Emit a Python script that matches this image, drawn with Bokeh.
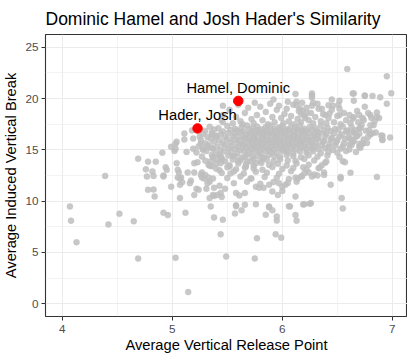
from bokeh.plotting import figure
from bokeh.models import Range1d, FixedTicker, ColumnDataSource
from bokeh.core.properties import value
from bokeh.embed import file_html
from bokeh.resources import INLINE

# --- data: (average vertical release point, average induced vertical break) ---
outlier_pts = [
    (4.07, 9.48), (4.08, 8.09), (4.13, 5.99), (4.39, 12.46), (4.42, 7.73), (4.52, 8.77),
    (4.65, 8.03), (4.69, 14.14), (4.69, 4.40), (4.76, 13.10), (4.83, 12.46), (4.83, 11.13),
    (4.84, 10.45), (4.85, 13.85), (4.82, 12.90), (4.92, 12.49), (4.92, 8.87), (4.91, 14.72),
    (4.94, 13.30), (4.95, 13.05), (4.96, 8.64), (4.99, 15.30), (4.99, 11.40), (5.03, 4.47),
    (5.04, 13.70), (5.05, 12.30), (5.07, 10.30), (5.12, 8.87), (5.145, 1.13), (5.20, 10.60),
    (5.35, 9.48), (5.38, 8.41), (5.44, 6.76), (5.46, 8.19), (5.49, 4.60), (5.57, 8.80),
    (5.58, 9.60), (5.77, 6.38), (5.75, 4.40), (5.85, 8.67), (5.88, 9.48), (5.94, 6.76),
    (5.95, 8.10), (5.95, 8.50), (5.99, 6.44), (6.07, 9.48), (6.12, 8.64), (6.13, 8.09),
    (6.19, 9.68), (6.25, 9.74), (6.54, 10.30), (6.55, 9.29), (6.86, 12.36), (6.62, 12.78),
    (6.53, 12.36), (6.59, 22.88), (6.95, 22.17), (6.99, 20.52), (6.95, 19.50), (6.98, 16.20),
    (6.91, 16.37), (6.91, 15.95), (6.89, 20.13), (6.82, 20.26), (6.75, 20.26), (6.64, 20.50),
    (6.12, 20.45), (6.88, 18.10), (6.86, 18.64),
]

left_pts = [
    (4.78, 13.85), (4.77, 12.40), (4.78, 11.10), (4.92, 12.40), (5.03, 15.60), (5.04, 15.80),
    (5.02, 14.90), (5.03, 15.10), (5.06, 12.80), (5.08, 12.30), (5.11, 16.60), (5.11, 16.00),
    (5.13, 14.80), (5.07, 11.60), (5.18, 16.90), (5.19, 16.10), (5.19, 15.10), (5.20, 13.70),
    (5.20, 12.80), (5.17, 12.00), (5.22, 11.20), (5.24, 11.10), (5.25, 16.30), (5.26, 15.60),
    (5.28, 15.00), (5.32, 15.30), (5.27, 12.80), (5.29, 12.20), (5.33, 12.30), (5.34, 11.90),
    (5.37, 12.20), (5.31, 11.20), (5.36, 16.50), (5.40, 16.30), (5.37, 15.10), (5.46, 19.30),
    (5.46, 18.40), (5.45, 17.90), (5.46, 17.70), (5.40, 13.70), (5.45, 14.00), (5.43, 13.00),
    (5.34, 10.30), (5.38, 10.50), (5.45, 10.40), (5.43, 11.50), (5.05, 13.05), (5.09, 11.85),
    (5.07, 12.20), (5.16, 11.75), (5.14, 12.80), (5.23, 13.80), (5.26, 12.56), (5.27, 12.30),
    (5.30, 12.56), (5.32, 11.75), (5.34, 13.45), (5.36, 13.40), (5.38, 11.30), (5.37, 10.60),
    (5.41, 10.60), (5.44, 10.80), (5.48, 11.20),
]

lower_pts = [
    (5.52, 13.37), (5.53, 12.70), (5.58, 10.80), (5.61, 10.55), (5.66, 10.80), (5.67, 13.37),
    (5.71, 12.20), (5.76, 11.40), (5.79, 11.30), (5.83, 11.30), (5.88, 11.60), (5.91, 10.95),
    (5.97, 11.75), (6.00, 11.40), (5.96, 10.60), (5.58, 9.50), (5.66, 9.65), (5.76, 9.70),
    (5.63, 9.10), (5.88, 9.40), (5.91, 9.10), (5.35, 13.90), (5.37, 14.30), (5.43, 14.50),
    (5.45, 14.20), (5.55, 14.40), (5.60, 13.90), (5.66, 14.30), (5.71, 13.90), (5.76, 13.70),
    (5.83, 14.20), (6.12, 10.45), (6.20, 9.70), (6.26, 9.80), (6.06, 9.50), (6.12, 12.30),
    (6.13, 11.90), (6.14, 12.20), (6.17, 12.40), (6.03, 11.60), (6.00, 11.00), (6.19, 13.30),
    (6.24, 12.80), (6.33, 13.20), (6.39, 13.75), (6.38, 12.80), (6.32, 12.50), (6.27, 12.40),
    (6.29, 12.60), (6.38, 12.56), (6.44, 11.60), (6.53, 12.20), (6.55, 13.90), (6.57, 13.80),
    (6.70, 15.30), (6.73, 15.60), (6.67, 14.80),
]

upper_pts = [
    (6.27, 20.50), (6.27, 20.30), (6.27, 20.10), (6.28, 19.60), (6.27, 19.30), (6.45, 19.90),
    (6.52, 19.80), (6.51, 19.40), (6.52, 19.00), (6.65, 20.50), (6.65, 19.80), (6.75, 20.30),
    (6.75, 19.20), (6.86, 18.20), (6.13, 19.70), (6.13, 19.35), (6.16, 19.00), (6.17, 18.50),
    (6.18, 18.80), (6.22, 18.60), (6.21, 18.10), (6.36, 19.00), (6.39, 18.40), (6.42, 19.35),
    (6.43, 18.55), (6.52, 18.40), (6.61, 18.40), (6.64, 18.05), (6.68, 18.80), (6.70, 18.40),
    (6.73, 18.10), (6.72, 17.40), (6.80, 18.40), (6.81, 18.10), (6.83, 17.40), (6.80, 17.40),
    (6.79, 16.90), (6.85, 16.70), (6.80, 16.50), (6.90, 16.40), (6.91, 16.00), (6.77, 15.67),
    (6.70, 15.60), (6.71, 15.20), (6.62, 16.05), (6.61, 15.50), (6.59, 16.90), (6.65, 16.70),
    (6.67, 16.30), (6.70, 17.10),
    (5.52, 18.90), (5.58, 18.20), (5.62, 17.80), (5.66, 18.60), (5.69, 19.10), (5.72, 18.00),
    (5.74, 17.60), (5.77, 18.40), (5.80, 19.20), (5.82, 17.90), (5.85, 18.70), (5.87, 17.50),
    (5.89, 19.50), (5.91, 18.20), (5.93, 17.70), (5.95, 18.90), (5.97, 19.30), (5.99, 18.10),
    (6.01, 17.60), (6.02, 18.50), (6.04, 19.00), (6.06, 17.80), (6.08, 18.30), (6.10, 19.40),
    (6.11, 17.50), (6.14, 18.00), (6.15, 18.80), (6.17, 17.70), (6.20, 18.30), (6.22, 19.10),
    (6.24, 17.90), (6.26, 18.60), (6.28, 17.60), (6.30, 18.20), (6.33, 19.00), (6.35, 17.80),
    (6.37, 18.50), (6.40, 17.60), (6.42, 18.10), (6.45, 18.90), (6.47, 17.70), (6.50, 18.30),
    (6.53, 17.50), (6.56, 18.60), (6.58, 17.90), (6.62, 17.60), (6.65, 18.20), (5.60, 19.40),
    (5.75, 19.60), (5.92, 19.90), (6.05, 19.70), (6.18, 19.60), (6.32, 19.50), (6.46, 19.30),
    (5.64, 17.50), (5.55, 17.60), (6.69, 17.70), (6.74, 17.90), (6.78, 18.60), (6.84, 17.80),
]

core_pts = [
    # ~17.2
    (5.34, 17.25), (5.42, 17.10), (5.50, 17.32), (5.57, 17.05), (5.63, 17.20), (5.68, 17.38),
    (5.73, 17.12), (5.77, 17.28), (5.81, 17.02), (5.85, 17.22), (5.89, 17.35), (5.93, 17.08),
    (5.97, 17.18), (6.00, 17.30), (6.04, 17.00), (6.08, 17.26), (6.12, 17.14), (6.16, 17.36),
    (6.20, 17.06), (6.25, 17.24), (6.30, 17.10), (6.35, 17.33), (6.41, 17.16), (6.48, 17.04),
    (6.55, 17.27), (6.63, 17.20), (6.71, 17.12),
    # ~16.9
    (5.30, 16.85), (5.38, 16.98), (5.46, 16.80), (5.53, 16.95), (5.59, 16.88), (5.64, 16.78),
    (5.69, 17.00), (5.74, 16.83), (5.78, 16.93), (5.82, 16.76), (5.86, 16.97), (5.90, 16.86),
    (5.94, 16.79), (5.98, 16.99), (6.02, 16.84), (6.06, 16.92), (6.10, 16.77), (6.14, 16.96),
    (6.18, 16.87), (6.22, 16.81), (6.27, 16.94), (6.32, 16.78), (6.38, 16.90), (6.44, 16.83),
    (6.51, 16.97), (6.58, 16.80), (6.66, 16.91), (6.76, 16.86),
    # ~16.6
    (5.28, 16.55), (5.36, 16.68), (5.44, 16.52), (5.51, 16.64), (5.57, 16.58), (5.62, 16.70),
    (5.67, 16.49), (5.71, 16.62), (5.75, 16.56), (5.79, 16.72), (5.83, 16.50), (5.87, 16.66),
    (5.91, 16.59), (5.95, 16.47), (5.99, 16.69), (6.03, 16.54), (6.07, 16.63), (6.11, 16.48),
    (6.15, 16.71), (6.19, 16.57), (6.24, 16.65), (6.29, 16.51), (6.34, 16.67), (6.40, 16.55),
    (6.47, 16.60), (6.54, 16.49), (6.62, 16.68), (6.70, 16.56), (6.82, 16.62),
    # ~16.3
    (5.32, 16.25), (5.40, 16.38), (5.48, 16.22), (5.55, 16.35), (5.60, 16.28), (5.65, 16.18),
    (5.70, 16.40), (5.74, 16.24), (5.78, 16.33), (5.82, 16.19), (5.86, 16.37), (5.90, 16.26),
    (5.94, 16.21), (5.98, 16.39), (6.02, 16.27), (6.06, 16.17), (6.10, 16.34), (6.14, 16.23),
    (6.18, 16.38), (6.23, 16.20), (6.28, 16.31), (6.33, 16.25), (6.39, 16.36), (6.45, 16.18),
    (6.52, 16.30), (6.60, 16.22), (6.68, 16.35), (6.78, 16.26),
    # ~16.0
    (5.26, 15.95), (5.35, 16.08), (5.43, 15.92), (5.50, 16.04), (5.56, 15.98), (5.61, 15.88),
    (5.66, 16.10), (5.70, 15.94), (5.74, 16.03), (5.78, 15.89), (5.82, 16.07), (5.86, 15.96),
    (5.90, 15.91), (5.94, 16.09), (5.98, 15.97), (6.02, 15.87), (6.06, 16.05), (6.10, 15.93),
    (6.14, 16.08), (6.18, 15.90), (6.22, 16.01), (6.27, 15.95), (6.32, 16.06), (6.38, 15.88),
    (6.44, 16.02), (6.50, 15.94), (6.57, 16.07), (6.65, 15.90), (6.74, 16.00),
    # ~15.7
    (5.30, 15.65), (5.38, 15.78), (5.46, 15.62), (5.53, 15.74), (5.59, 15.68), (5.64, 15.58),
    (5.69, 15.80), (5.73, 15.64), (5.77, 15.73), (5.81, 15.59), (5.85, 15.77), (5.89, 15.66),
    (5.93, 15.61), (5.97, 15.79), (6.01, 15.67), (6.05, 15.57), (6.09, 15.75), (6.13, 15.63),
    (6.17, 15.78), (6.21, 15.60), (6.26, 15.71), (6.31, 15.65), (6.37, 15.76), (6.43, 15.58),
    (6.49, 15.72), (6.56, 15.64), (6.64, 15.77), (6.73, 15.62),
    # ~15.4
    (5.24, 15.35), (5.33, 15.48), (5.41, 15.32), (5.48, 15.44), (5.54, 15.38), (5.60, 15.28),
    (5.65, 15.50), (5.70, 15.34), (5.74, 15.43), (5.78, 15.29), (5.82, 15.47), (5.86, 15.36),
    (5.90, 15.31), (5.94, 15.49), (5.98, 15.37), (6.02, 15.27), (6.06, 15.45), (6.10, 15.33),
    (6.15, 15.48), (6.20, 15.30), (6.25, 15.41), (6.30, 15.35), (6.36, 15.46), (6.42, 15.28),
    (6.48, 15.42), (6.55, 15.34), (6.63, 15.47),
    # ~15.1
    (5.28, 15.05), (5.36, 15.18), (5.44, 15.02), (5.51, 15.14), (5.57, 15.08), (5.62, 14.98),
    (5.67, 15.20), (5.72, 15.04), (5.76, 15.13), (5.80, 14.99), (5.84, 15.17), (5.88, 15.06),
    (5.92, 15.01), (5.96, 15.19), (6.00, 15.07), (6.04, 14.97), (6.08, 15.15), (6.12, 15.03),
    (6.17, 15.18), (6.22, 15.00), (6.27, 15.11), (6.33, 15.05), (6.39, 15.16), (6.46, 14.98),
    (6.53, 15.12), (6.61, 15.04),
]

mid_pts = [
    # ~14.8
    (5.22, 14.75), (5.31, 14.88), (5.40, 14.70), (5.47, 14.84), (5.53, 14.78), (5.59, 14.66),
    (5.65, 14.90), (5.70, 14.72), (5.75, 14.83), (5.80, 14.68), (5.85, 14.87), (5.90, 14.74),
    (5.95, 14.69), (6.00, 14.89), (6.05, 14.76), (6.10, 14.65), (6.16, 14.85), (6.22, 14.71),
    (6.28, 14.86), (6.35, 14.67), (6.42, 14.80), (6.50, 14.73), (6.58, 14.88),
    # ~14.4
    (5.27, 14.35), (5.36, 14.50), (5.44, 14.30), (5.51, 14.46), (5.57, 14.38), (5.63, 14.26),
    (5.68, 14.52), (5.73, 14.33), (5.78, 14.44), (5.83, 14.28), (5.88, 14.49), (5.93, 14.36),
    (5.98, 14.31), (6.04, 14.51), (6.10, 14.37), (6.17, 14.27), (6.24, 14.47), (6.32, 14.34),
    (6.41, 14.45), (6.52, 14.30),
    # ~14.0
    (5.30, 13.95), (5.40, 14.10), (5.48, 13.90), (5.55, 14.05), (5.62, 13.98), (5.68, 13.86),
    (5.74, 14.12), (5.80, 13.93), (5.86, 14.04), (5.92, 13.88), (5.98, 14.08), (6.05, 13.96),
    (6.12, 13.91), (6.20, 14.11), (6.29, 13.97), (6.40, 13.87),
    # ~13.6
    (5.33, 13.55), (5.44, 13.70), (5.52, 13.50), (5.60, 13.66), (5.67, 13.58), (5.74, 13.46),
    (5.81, 13.72), (5.88, 13.53), (5.96, 13.64), (6.04, 13.48), (6.13, 13.68), (6.24, 13.56),
    (6.36, 13.51),
    # ~13.2
    (5.40, 13.15), (5.50, 13.30), (5.58, 13.10), (5.66, 13.26), (5.74, 13.18), (5.82, 13.06),
    (5.91, 13.32), (6.00, 13.13), (6.10, 13.24), (6.22, 13.08), (6.34, 13.28),
    # ~12.8
    (5.45, 12.75), (5.56, 12.90), (5.65, 12.70), (5.76, 12.86), (5.86, 12.78), (5.97, 12.66),
    (6.08, 12.92), (6.20, 12.73),
    # ~12.3
    (5.50, 12.25), (5.62, 12.40), (5.72, 12.20), (5.84, 12.36), (5.95, 12.28), (6.06, 12.16),
    (6.18, 12.42),
    # ~11.8
    (5.56, 11.75), (5.68, 11.90), (5.80, 11.70), (5.92, 11.86), (6.05, 11.78),
]

highlight_names = ["Hamel, Dominic", "Hader, Josh"]
highlight_vrp = [5.60, 5.23]
highlight_ivb = [19.77, 17.09]

x_ticks = [4, 5, 6, 7]
x_minor = [4.5, 5.5, 6.5]
y_ticks = [0, 5, 10, 15, 20, 25]
y_minor = [2.5, 7.5, 12.5, 17.5, 22.5]

all_pts = outlier_pts + left_pts + lower_pts + upper_pts + core_pts + mid_pts
vrp = [p[0] for p in all_pts]
ivb = [p[1] for p in all_pts]

# --- figure ---
FONT = "Liberation Sans"
p = figure(frame_width=362, frame_height=282, output_backend="svg", toolbar_location=None,
           x_range=Range1d(3.848, 7.138), y_range=Range1d(-1.25, 26.25),
           min_border_left=38, min_border_right=0, min_border_top=25,
           min_border_bottom=36, title="Dominic Hamel and Josh Hader's Similarity")
p.background_fill_color = "white"
p.border_fill_color = "white"
p.outline_line_color = "#333333"
p.outline_line_width = 1.1

p.title.text_font = FONT
p.title.text_font_size = "17.5px"
p.title.text_font_style = "normal"
p.title.text_color = "black"
p.title.align = "left"
p.title.standoff = 12
p.title.offset = 0
p.title.text_line_height = 1.25

p.xaxis.ticker = FixedTicker(ticks=x_ticks, minor_ticks=x_minor)
p.yaxis.ticker = FixedTicker(ticks=y_ticks, minor_ticks=y_minor)
for ax in (p.xaxis, p.yaxis):
    ax.axis_line_color = None
    ax.major_tick_line_color = "#333333"
    ax.major_tick_in = 0
    ax.major_tick_out = 4
    ax.minor_tick_line_color = None
    ax.major_label_text_font = FONT
    ax.major_label_text_font_size = "11.7px"
    ax.major_label_text_color = "#4D4D4D"
    ax.axis_label_text_font = FONT
    ax.axis_label_text_font_size = "14.7px"
    ax.axis_label_text_font_style = "normal"
    ax.axis_label_text_color = "black"
    ax.major_label_standoff = 3
    ax.axis_label_standoff = 3
p.xaxis.major_label_standoff = 4
p.xaxis.axis_label_standoff = 1
p.xaxis.axis_label = "Average Vertical Release Point"
p.yaxis.axis_label = "Average Induced Vertical Break"

for g in (p.xgrid, p.ygrid):
    g.grid_line_color = "#EBEBEB"
    g.grid_line_width = 1.1
    g.minor_grid_line_color = "#EBEBEB"
    g.minor_grid_line_width = 0.6

src = ColumnDataSource(dict(x=vrp, y=ivb))
p.scatter("x", "y", source=src, size=6, fill_color="#BEBEBE", fill_alpha=0.85,
          line_color="#BEBEBE", line_alpha=0.85, line_width=0.5)

hsrc = ColumnDataSource(dict(x=highlight_vrp, y=highlight_ivb, name=highlight_names))
p.scatter("x", "y", source=hsrc, size=9.5, fill_color="#FF0000", line_color="#FF0000")
p.text("x", "y", text="name", source=hsrc, text_font=value(FONT), text_font_size="14.7px",
       text_color="black", text_align="center", text_baseline="middle", y_offset=-13)

open("out.html", "w").write(file_html(p, INLINE))
